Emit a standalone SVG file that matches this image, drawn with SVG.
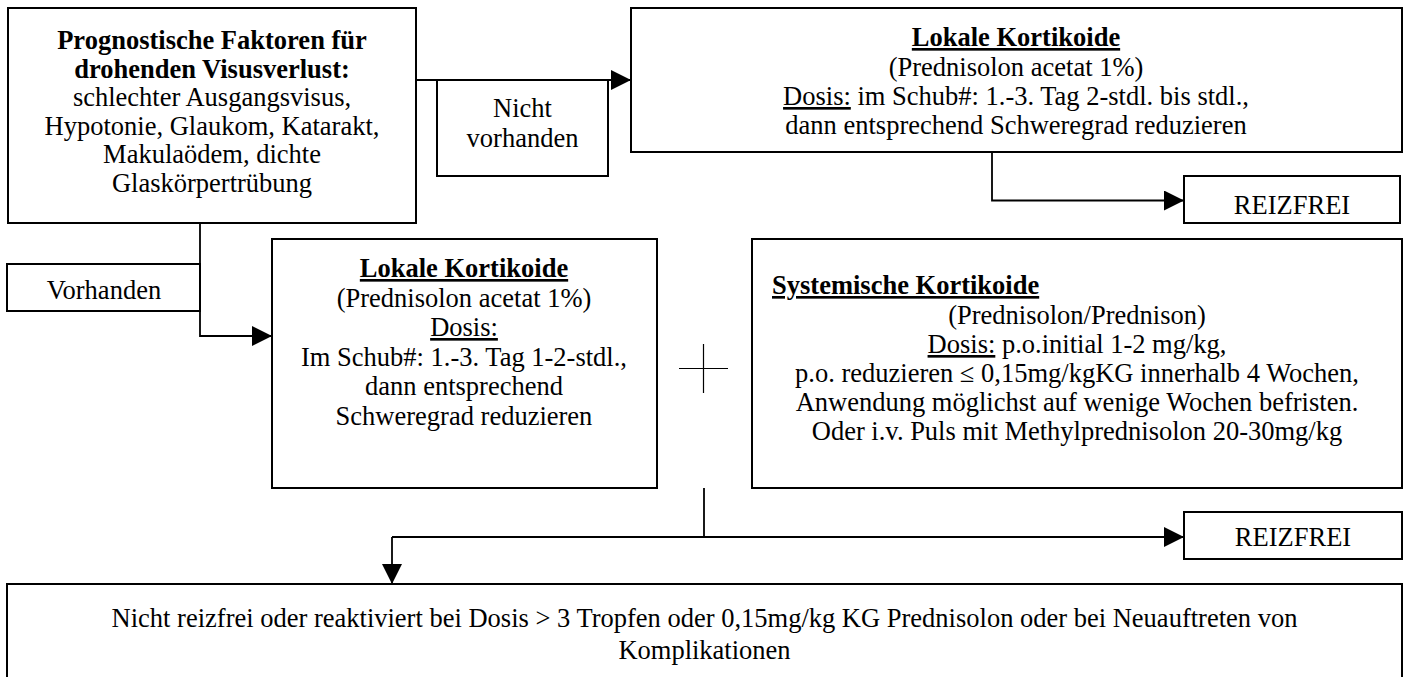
<svg xmlns="http://www.w3.org/2000/svg" width="1409" height="677" viewBox="0 0 1409 677">
<defs>
<style>
.box{fill:#fff;stroke:#000;stroke-width:2}
.con{fill:none;stroke:#000;stroke-width:1.8}
.t{font-family:"Liberation Serif","Times New Roman",serif;font-size:26.5px;fill:#000}
.c{text-anchor:middle}
.b{font-weight:bold}
.u{text-decoration:underline}
</style>
<marker id="arr" viewBox="0 0 10 10" refX="10" refY="5" markerWidth="20" markerHeight="20" markerUnits="userSpaceOnUse" orient="auto">
<path d="M0,0 L10,5 L0,10 z" fill="#000"/>
</marker>
</defs>
<rect width="1409" height="677" fill="#fff"/>

<g id="connectors">
<path class="con" d="M416,80 H631" marker-end="url(#arr)"/>
<path class="con" d="M200,223 V336 H272" marker-end="url(#arr)"/>
<path class="con" d="M992,152 V200.5 H1184" marker-end="url(#arr)"/>
<path class="con" d="M704,488 V537"/>
<path class="con" d="M392,537 H1184" marker-end="url(#arr)"/>
<path class="con" d="M392,537 V584" marker-end="url(#arr)"/>
</g>

<g id="prognose">
<rect class="box" x="8" y="8" width="408" height="215"/>
<text class="t c b" x="212" y="49">Prognostische Faktoren für</text>
<text class="t c b" x="212" y="77.5">drohenden Visusverlust:</text>
<text class="t c" x="212" y="106">schlechter Ausgangsvisus,</text>
<text class="t c" x="212" y="134.5">Hypotonie, Glaukom, Katarakt,</text>
<text class="t c" x="212" y="163">Makulaödem, dichte</text>
<text class="t c" x="212" y="191.5">Glaskörpertrübung</text>
</g>

<g id="nicht-vorhanden">
<rect class="box" x="437" y="80" width="171" height="96"/>
<text class="t c" x="522.5" y="117">Nicht</text>
<text class="t c" x="522.5" y="147">vorhanden</text>
</g>

<g id="lokal-oben">
<rect class="box" x="631" y="8" width="771" height="144"/>
<text class="t c b u" x="1016" y="46">Lokale Kortikoide</text>
<text class="t c" x="1016" y="75.5">(Prednisolon acetat 1%)</text>
<text class="t c" x="1016" y="105"><tspan class="u">Dosis:</tspan> im Schub#: 1.-3. Tag 2-stdl. bis stdl.,</text>
<text class="t c" x="1016" y="134">dann entsprechend Schweregrad reduzieren</text>
</g>

<g id="reizfrei-1">
<rect class="box" x="1184" y="176" width="216" height="47"/>
<text class="t c" x="1292" y="214">REIZFREI</text>
</g>

<g id="vorhanden">
<rect class="box" x="7" y="264" width="193" height="47"/>
<text class="t c" x="104" y="299">Vorhanden</text>
</g>

<g id="lokal-mitte">
<rect class="box" x="272" y="239" width="385" height="249"/>
<text class="t c b u" x="464" y="277">Lokale Kortikoide</text>
<text class="t c" x="464" y="306.5">(Prednisolon acetat 1%)</text>
<text class="t c" x="464" y="336"><tspan class="u">Dosis:</tspan></text>
<text class="t c" x="464" y="365.5">Im Schub#: 1.-3. Tag 1-2-stdl.,</text>
<text class="t c" x="464" y="395">dann entsprechend</text>
<text class="t c" x="464" y="424.5">Schweregrad reduzieren</text>
</g>

<g id="plus">
<path d="M679,368.5 H728 M703.5,344 V393" stroke="#000" stroke-width="1.2" fill="none"/>
</g>

<g id="systemisch">
<rect class="box" x="752" y="239" width="650" height="249"/>
<text class="t b u" x="772" y="294">Systemische Kortikoide</text>
<text class="t c" x="1077" y="323.5">(Prednisolon/Prednison)</text>
<text class="t c" x="1077" y="353"><tspan class="u">Dosis:</tspan> p.o.initial 1-2 mg/kg,</text>
<text class="t c" x="1077" y="382">p.o. reduzieren ≤ 0,15mg/kgKG innerhalb 4 Wochen,</text>
<text class="t c" x="1077" y="411">Anwendung möglichst auf wenige Wochen befristen.</text>
<text class="t c" x="1077" y="440">Oder i.v. Puls mit Methylprednisolon 20-30mg/kg</text>
</g>

<g id="reizfrei-2">
<rect class="box" x="1184" y="512" width="218" height="47"/>
<text class="t c" x="1293" y="546">REIZFREI</text>
</g>

<g id="nicht-reizfrei">
<rect class="box" x="7" y="584" width="1395" height="110"/>
<text class="t c" x="704.5" y="627">Nicht reizfrei oder reaktiviert bei Dosis &gt; 3 Tropfen oder 0,15mg/kg KG Prednisolon oder bei Neuauftreten von</text>
<text class="t c" x="704.5" y="659">Komplikationen</text>
</g>
</svg>
